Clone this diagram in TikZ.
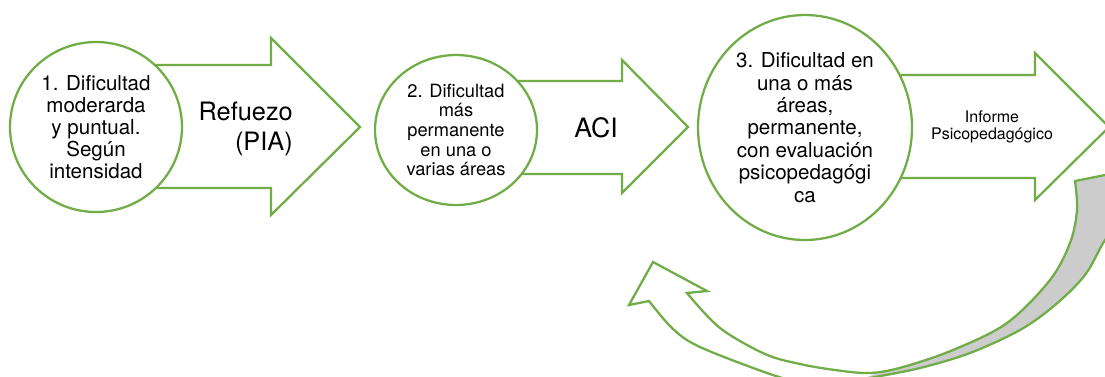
\documentclass[tikz,border=0pt]{standalone}
\usepackage{fontspec}
\setmainfont{TeX Gyre Heros}
\usetikzlibrary{shapes.geometric}
\definecolor{grn}{HTML}{70AD47}
\definecolor{band}{HTML}{CCCCCC}
\begin{document}
\begin{tikzpicture}[x=0.75pt,y=-0.75pt,
  ln/.style={draw=grn,line width=1.7pt,line join=miter},
  bigarrow/.style={ln,fill=white},
  circ/.style={ellipse,draw=grn,line width=1.7pt,fill=white,inner sep=0pt,align=center,text=black},
  lbl/.style={inner sep=0pt,text=black}]
\useasboundingbox (0,0) rectangle (1105,376);
\clip (0,0) rectangle (1105,376);

% block arrows
\draw[bigarrow] (96,65) -- (271,65) -- (271,38) -- (360,127) -- (271,215) -- (271,188) -- (96,188) -- cycle;
\draw[bigarrow] (456,81) -- (622,81) -- (622,60) -- (688,127) -- (622,193) -- (622,174) -- (456,174) -- cycle;
\draw[bigarrow] (805,75) -- (1035,75) -- (1035,53) -- (1109,127) -- (1035,200) -- (1035,178) -- (805,178) -- cycle;

% circles
\node[circ,minimum width=129pt,minimum height=127.5pt,font=\fontsize{15.4}{16.5}\selectfont] (c1) at (96,127)
  {1. Dificultad\\moderarda\\y puntual.\\Según\\intensidad};
\node[circ,minimum width=121.5pt,minimum height=112.5pt,font=\fontsize{13.7}{14.7}\selectfont] (c2) at (456,130)
  {2. Dificultad\\más\\permanente\\en una o\\varias áreas};
\node[circ,minimum width=160.5pt,minimum height=168.75pt,font=\fontsize{15.4}{16.8}\selectfont] (c3) at (805,127.5)
  {3. Dificultad en\\una o más\\áreas,\\permanente,\\con evaluación\\psicopedagógi\\ca};

% arrow labels
\node[lbl,anchor=east,align=right,font=\fontsize{19}{22.5}\selectfont] (l1) at (293,129) {Refuezo\\(PIA)};
\node[lbl,font=\fontsize{20}{24}\selectfont] (l2) at (596,128) {ACI};
\node[lbl,align=center,font=\fontsize{12}{12.75}\selectfont] (l3) at (992,127) {Informe\\Psicopedagógico};

% curved return arrow
\fill[band] plot[smooth,tension=0.55] coordinates {(880,372.5) (903,367) (953,350) (1007,323) (1050,280) (1070,243) (1077,210) (1075,181)}
  -- (1115,173) -- (1120,220)
  -- plot[smooth,tension=0.55] coordinates {(1105,240) (1085,275) (1055,305) (1020,330) (970,353) (920,368) (870,378) (858,380)} -- cycle;
\draw[ln] plot[smooth,tension=0.55] coordinates {(810,386) (767,373) (700,347) (673,329) (649,301)}
  -- (629,305) -- (653,262) -- (707,291) -- (687,293)
  -- plot[smooth,tension=0.55] coordinates {(687,293) (720,328) (765,354) (800,364) (835,370) (870,373) (903,367) (953,350) (1007,323) (1050,280) (1070,243) (1077,210) (1075,181)}
  -- (1115,173);
\draw[ln] plot[smooth,tension=0.55] coordinates {(1120,225) (1105,240) (1085,275) (1055,305) (1020,330) (970,353) (920,368) (870,378) (830,386)};
\end{tikzpicture}
\end{document}
